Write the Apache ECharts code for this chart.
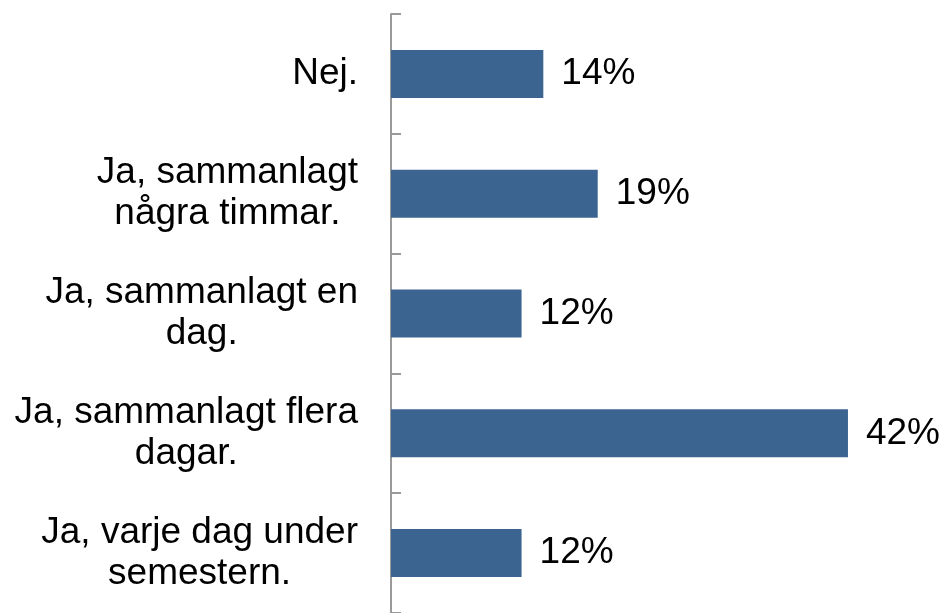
<!DOCTYPE html>
<html>
<head>
<meta charset="utf-8">
<script src="https://cdn.jsdelivr.net/npm/echarts@6/dist/echarts.min.js"></script>
<style>
  html, body { margin: 0; padding: 0; background: #fff; }
  #chart { width: 945px; height: 613px; }
</style>
</head>
<body>
<div id="chart"></div>
<script>
  // categories top to bottom
  var categories = [
    'Nej.',
    'Ja, sammanlagt\nnågra timmar.',
    'Ja, sammanlagt en\ndag.',
    'Ja, sammanlagt flera\ndagar.',
    'Ja, varje dag under\nsemestern.'
  ]
  var values = [14, 19, 12, 42, 12]

  var font = 'Liberation Sans, Arial, sans-serif'
  var chart = echarts.init(document.getElementById('chart'))
  var option = {
    animation: false,
    grid: {
      left: 391,
      right: 10,
      top: 14,
      bottom: -1,
      containLabel: false
    },
    xAxis: {
      type: 'value',
      min: 0,
      max: 50,
      show: false
    },
    yAxis: {
      type: 'category',
      inverse: true,
      data: categories,
      axisLine: {
        show: true,
        lineStyle: { color: '#9a9a9a', width: 2 }
      },
      axisTick: {
        show: true,
        inside: true,
        length: 10,
        lineStyle: { color: '#9a9a9a', width: 2 }
      },
      axisLabel: {
        margin: 33,
        color: '#000',
        fontSize: 37,
        lineHeight: 41,
        fontFamily: font,
        align: 'right',
        // lines centered inside the right-aligned block
        formatter: function (v) {
          return v.split('\n').map(function (s) { return '{c|' + s + '}' }).join('\n')
        },
        rich: {
          c: { align: 'center', fontSize: 37, lineHeight: 41, fontFamily: font, color: '#000' }
        }
      },
      splitLine: { show: false }
    },
    series: [
      {
        type: 'bar',
        data: values,
        barWidth: 48,
        itemStyle: { color: '#3c6490' },
        label: {
          show: true,
          position: 'right',
          distance: 18,
          color: '#000',
          fontSize: 37,
          fontFamily: font,
          formatter: '{c}%'
        }
      }
    ]
  }
  chart.setOption(option)
</script>
</body>
</html>
